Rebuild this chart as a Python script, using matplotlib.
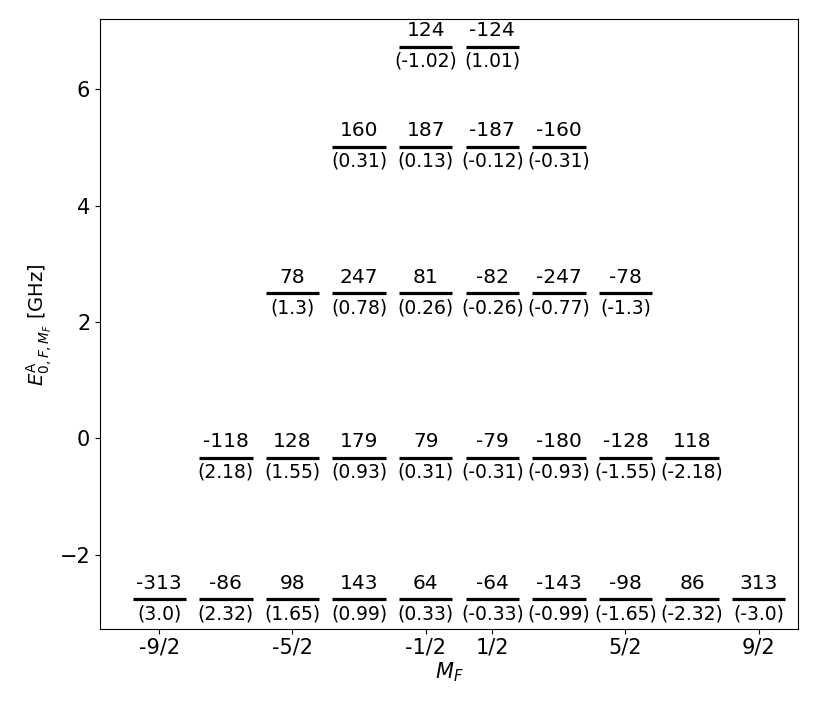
import numpy as np
import matplotlib
matplotlib.use('Agg')
import matplotlib.pyplot as plt

# hyperfine manifolds, bottom to top
f92_mf = [-4.5, -3.5, -2.5, -1.5, -0.5, 0.5, 1.5, 2.5, 3.5, 4.5]
f92_top = [-313, -86, 98, 143, 64, -64, -143, -98, 86, 313]
f92_low = [3.0, 2.32, 1.65, 0.99, 0.33, -0.33, -0.99, -1.65, -2.32, -3.0]

f72_mf = [-3.5, -2.5, -1.5, -0.5, 0.5, 1.5, 2.5, 3.5]
f72_top = [-118, 128, 179, 79, -79, -180, -128, 118]
f72_low = [2.18, 1.55, 0.93, 0.31, -0.31, -0.93, -1.55, -2.18]

f52_mf = [-2.5, -1.5, -0.5, 0.5, 1.5, 2.5]
f52_top = [78, 247, 81, -82, -247, -78]
f52_low = [1.3, 0.78, 0.26, -0.26, -0.77, -1.3]

f32_mf = [-1.5, -0.5, 0.5, 1.5]
f32_top = [160, 187, -187, -160]
f32_low = [0.31, 0.13, -0.12, -0.31]

f12_mf = [-0.5, 0.5]
f12_top = [124, -124]
f12_low = [-1.02, 1.01]

# level energies in GHz
levels = [-2.77, -0.34, 2.49, 5.01, 6.73]

tick_pos = [-4.5, -2.5, -0.5, 0.5, 2.5, 4.5]
tick_labels = ['-9/2', '-5/2', '-1/2', '1/2', '5/2', '9/2']

manifolds = [
    (f92_mf, f92_top, f92_low),
    (f72_mf, f72_top, f72_low),
    (f52_mf, f52_top, f52_low),
    (f32_mf, f32_top, f32_low),
    (f12_mf, f12_top, f12_low),
]

fig = plt.figure(figsize=(8.3, 7.05), dpi=100)
ax = fig.add_axes([0.1205, 0.1074, 0.8409, 0.8652])

half = 0.4
for (mf, top, low), e in zip(manifolds, levels):
    mf = np.asarray(mf)
    ax.hlines([e] * len(mf), mf - half, mf + half, color='black', lw=2.3)
    for m, t, b in zip(mf, top, low):
        # shift above, coupling below
        ax.annotate(str(t), xy=(m, e), xytext=(0, 7.6), textcoords='offset points',
                    ha='center', va='baseline', fontsize=14.5)
        ax.annotate('({})'.format(b), xy=(m, e), xytext=(0, -3.4), textcoords='offset points',
                    ha='center', va='top', fontsize=13.5)

ax.set_xlim(-5.39, 5.09)
ax.set_ylim(-3.285, 7.205)
ax.set_xticks(tick_pos)
ax.set_xticklabels(tick_labels)
ax.set_yticks([-2, 0, 2, 4, 6])
ax.tick_params(labelsize=15)
ax.tick_params(axis='x', pad=2.5)
ax.set_xlabel(r'$M_F$', fontsize=15, labelpad=2)
ax.set_ylabel(r'$E^{\mathrm{A}}_{0,F,M_F}$ [GHz]', fontsize=14)

fig.savefig('out.png', dpi=100)
